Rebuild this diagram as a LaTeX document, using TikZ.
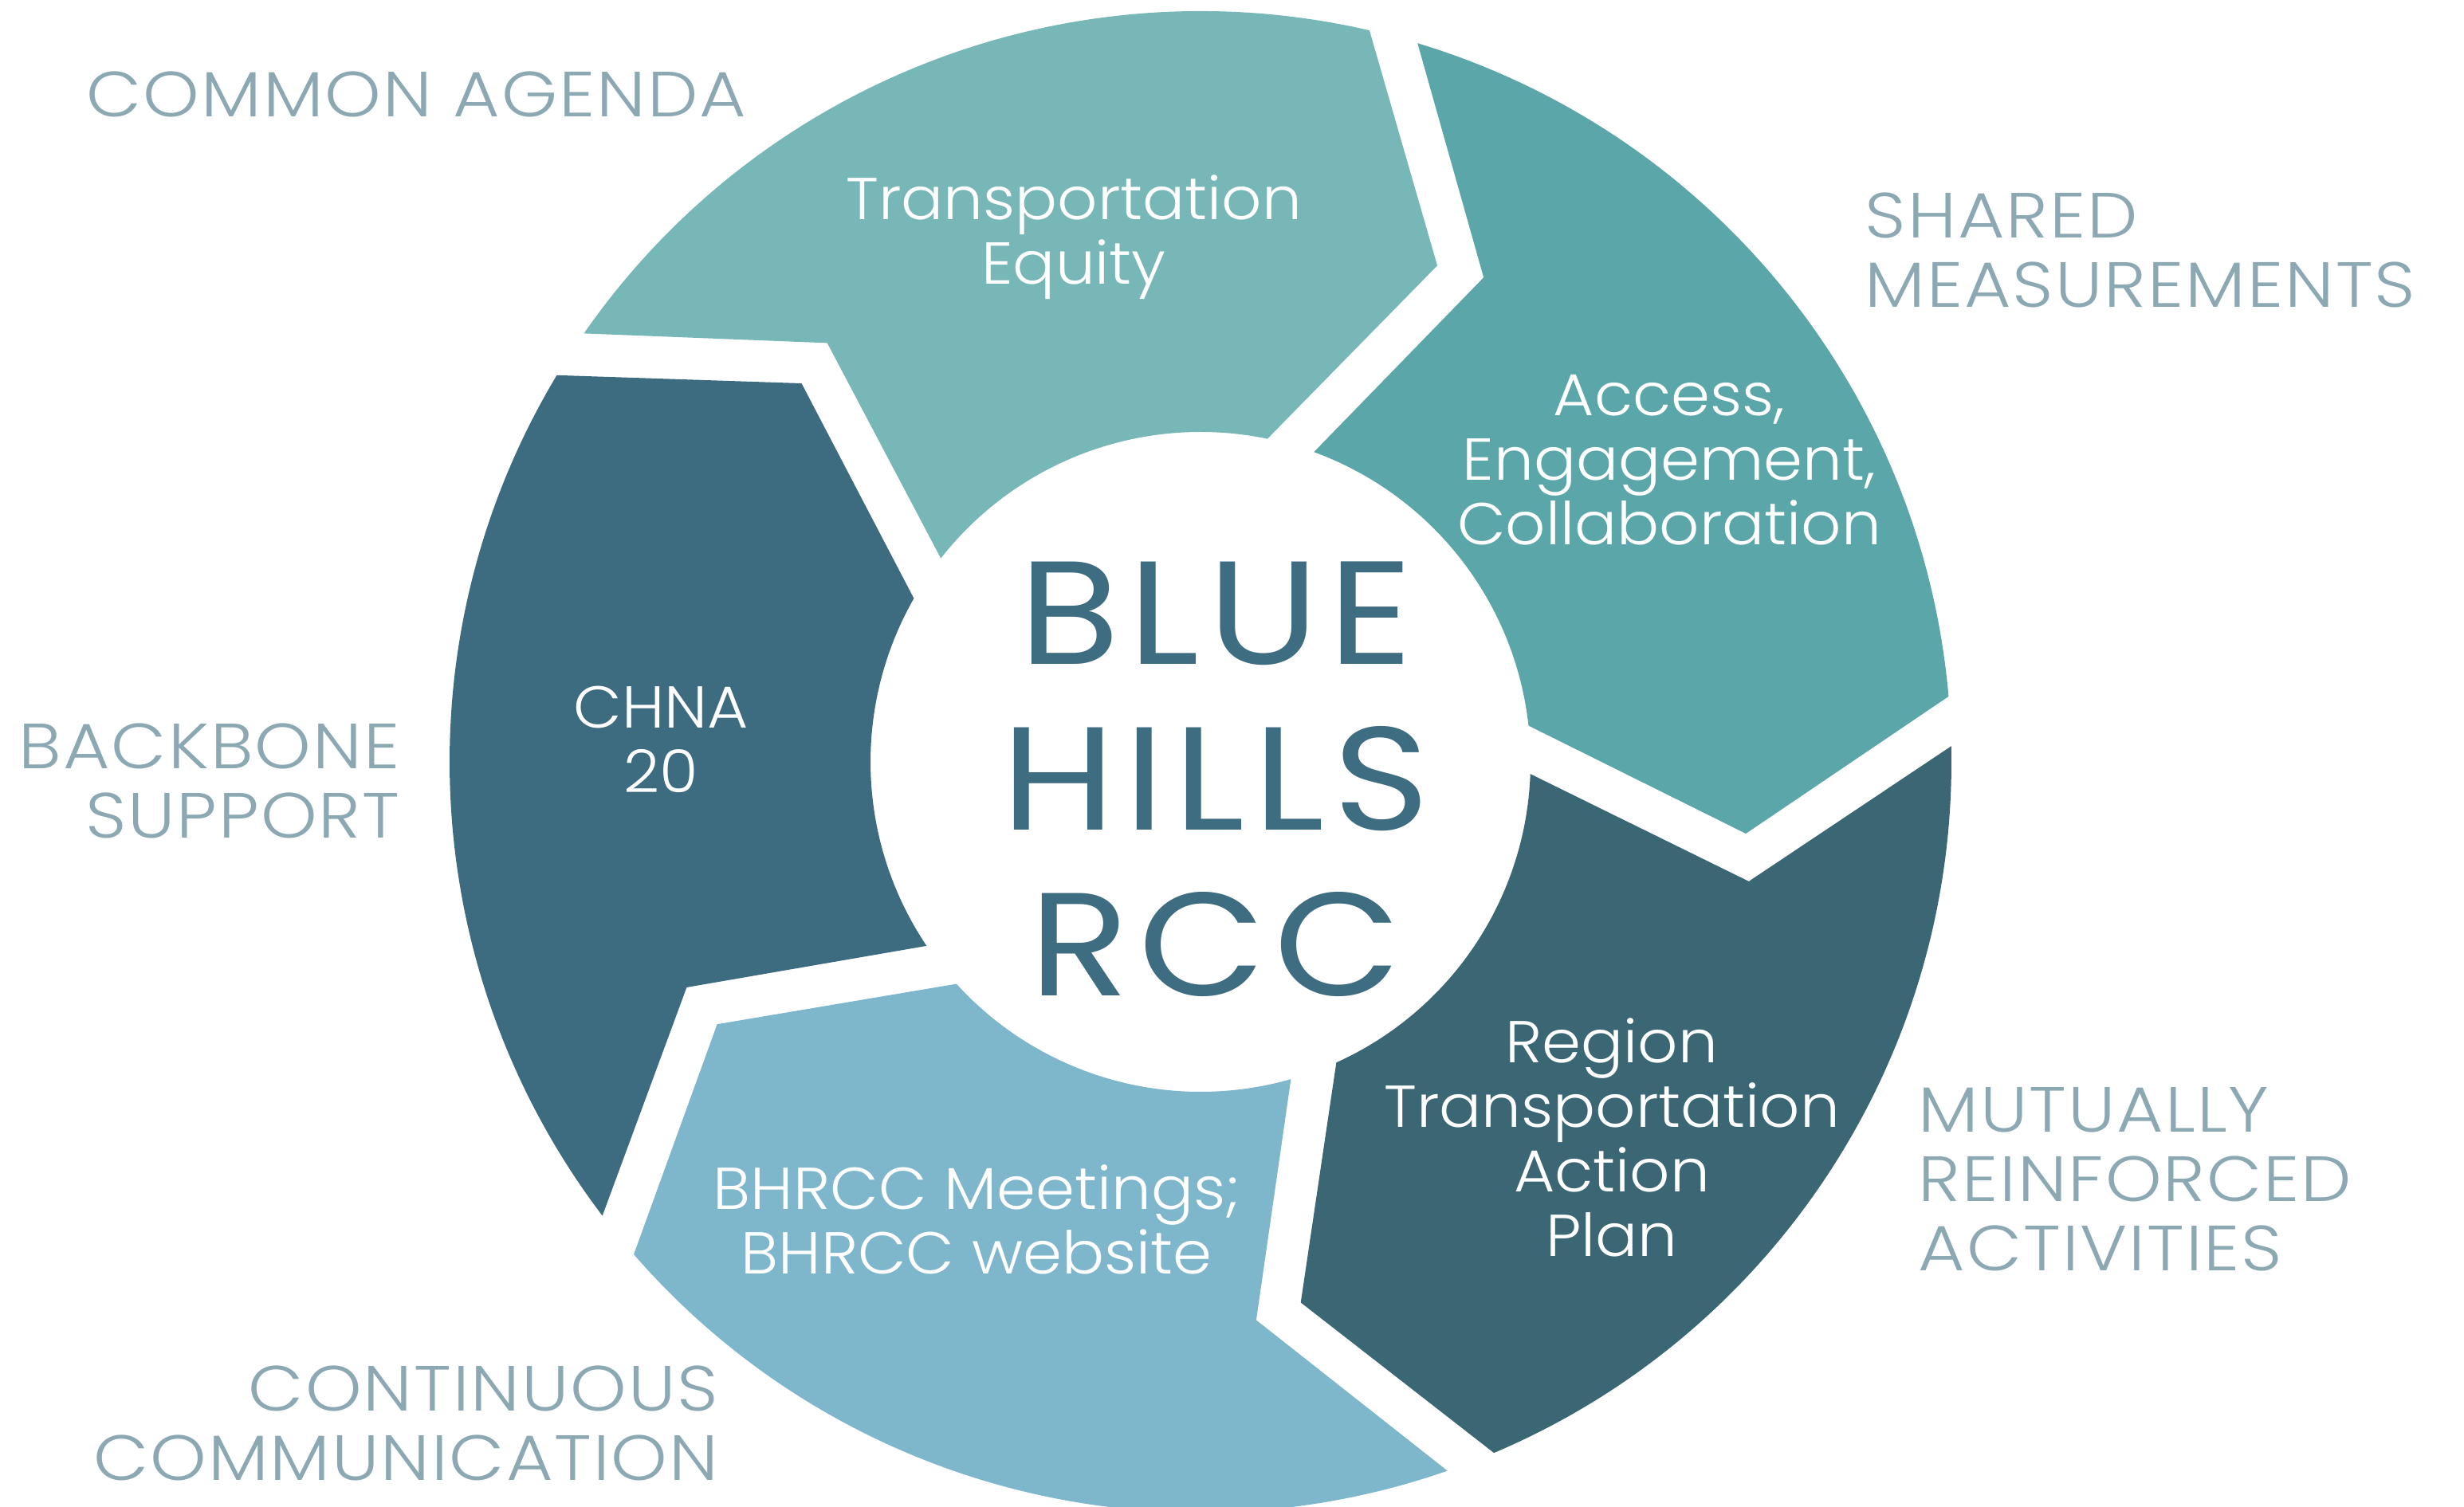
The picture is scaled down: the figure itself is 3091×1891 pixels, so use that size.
\documentclass[tikz,border=0pt]{standalone}
\usepackage{fontspec}
\IfFontExistsTF{Poppins Light}{%
  \newfontfamily\segfont{Poppins Light}[FakeStretch=1.06]
  \newfontfamily\pillarfont{Poppins Light}[FakeStretch=1.12, LetterSpace=2.5]}{%
  \newfontfamily\segfont{Poppins}[FakeStretch=1.06]
  \newfontfamily\pillarfont{Poppins}[FakeStretch=1.12, LetterSpace=2.5]}
\newfontfamily\hubfont{Poppins}[FakeStretch=1.12, LetterSpace=6]
\usepackage{xcolor}
\usepackage{tikz}
\usetikzlibrary{positioning}
\definecolor{equityteal}{HTML}{78B7B7}
\definecolor{accessteal}{HTML}{5AA6A8}
\definecolor{planslate}{HTML}{3A6773}
\definecolor{meetblue}{HTML}{7EB6CC}
\definecolor{chnaslate}{HTML}{3D6B7F}
\definecolor{hubblue}{HTML}{3E6C80}
\definecolor{pillargray}{HTML}{8CA9B3}
\tikzset{
  seglabel/.style={text=white, align=center, inner sep=0pt, anchor=north, font=\segfont\fontsize{21.1}{23}\selectfont},
  pillar/.style={text=pillargray, inner sep=0pt, font=\pillarfont\fontsize{22.8}{24.75}\selectfont},
  hub/.style={text=hubblue, align=center, inner sep=0pt, anchor=north, font=\hubfont\fontsize{52.4}{59.2}\selectfont}}

\begin{document}
\begin{tikzpicture}[x=0.01cm, y=0.01cm]
  \useasboundingbox (0,0) rectangle (3091,1891);
  \coordinate (ring) at (1506,935);
  % five chevron blocks round the ring, clockwise
  \begin{scope}[shift={(ring)}]
    \foreach \c/\col in {111/equityteal, 39/accessteal, -33/planslate, -105/meetblue, -177/chnaslate}
      \fill[\col] (\c+34.2:942) arc[start angle=\c+34.2, end angle=\c-34, radius=942]
        -- (\c-46.5:690) -- (\c-32.7:414) arc[start angle=\c-32.7, end angle=\c+30.9, radius=414]
        -- (\c+20.7:704) -- cycle;
  \end{scope}
  \node[seglabel] (equity) at (1347,1672) {Transportation\\Equity};
  \node[seglabel] (access) at (2094,1421) {Access,\\Engagement,\\Collaboration};
  \node[seglabel] (plan) at (2022,614) {Region\\Transportation\\Action\\Plan};
  \node[seglabel] (meet) at (1225,430) {BHRCC Meetings;\\BHRCC website};
  \node[seglabel] (chna) at (829,1031) {CHNA\\20};
  \node[hub] (hub) at (1525,1187) {BLUE\\HILLS\\RCC};
  % the five conditions outside
  \node[pillar, anchor=north west] (agenda) at (108,1802) {COMMON AGENDA};
  \node[pillar, anchor=north west, align=left] (measure) at (2339,1650) {SHARED\\MEASUREMENTS};
  \node[pillar, anchor=north east, align=right] (backbone) at (502,984) {BACKBONE\\SUPPORT};
  \node[pillar, anchor=north west, align=left] (activities) at (2406,527) {MUTUALLY\\REINFORCED\\ACTIVITIES};
  \node[pillar, anchor=north east, align=right] (comm) at (902,178) {CONTINUOUS\\COMMUNICATION};
\end{tikzpicture}
\end{document}
